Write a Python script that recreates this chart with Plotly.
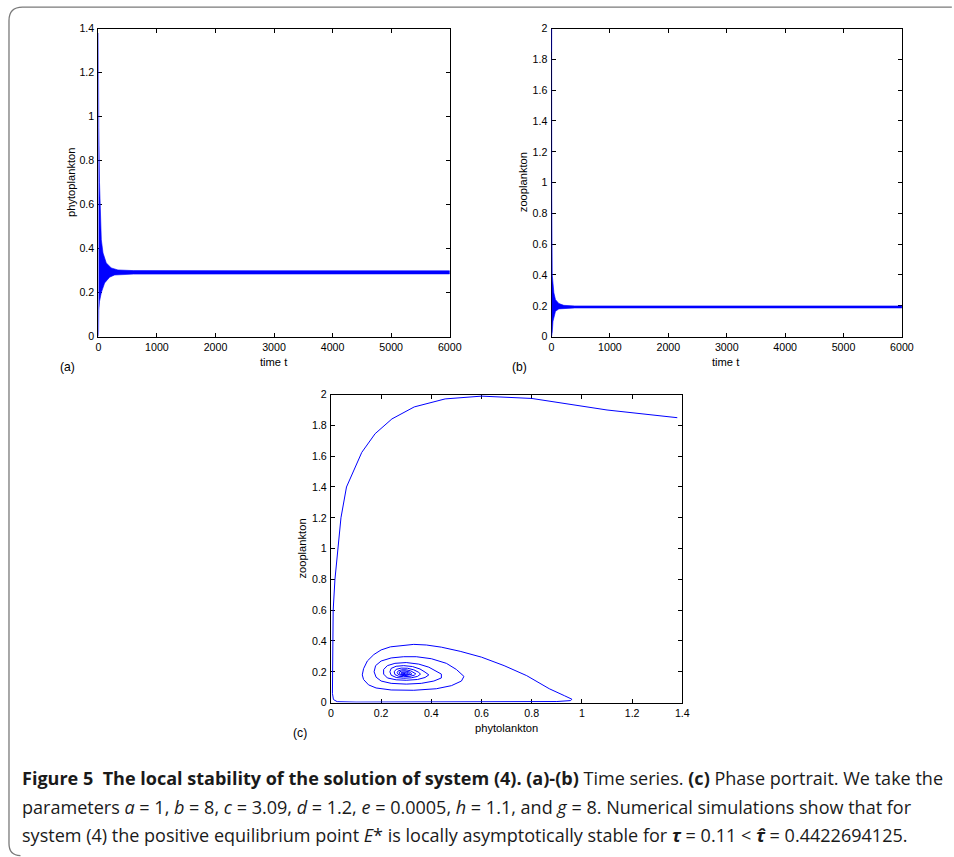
import plotly.graph_objects as go

BLUE = "#0000FF"
W, H = 954, 857

# ---------------- data ----------------
time_ticks = [0, 1000, 2000, 3000, 4000, 5000, 6000]
time_tick_text = ["0", "1000", "2000", "3000", "4000", "5000", "6000"]
phyto_ticks = [0, 0.2, 0.4, 0.6, 0.8, 1.0, 1.2, 1.4]
phyto_tick_text = ["0", "0.2", "0.4", "0.6", "0.8", "1", "1.2", "1.4"]
zoo_ticks = [0, 0.2, 0.4, 0.6, 0.8, 1.0, 1.2, 1.4, 1.6, 1.8, 2.0]
zoo_tick_text = ["0", "0.2", "0.4", "0.6", "0.8", "1", "1.2", "1.4", "1.6", "1.8", "2"]

# (a) phytoplankton time series: envelope of the dense oscillation band
a_upper_t = [0, 3, 8, 20, 34, 51, 80, 136, 221, 335, 600, 6000]
a_upper_p = [1.38, 0.97, 0.95, 0.70, 0.53, 0.44, 0.38, 0.335, 0.312, 0.303, 0.300, 0.299]
a_lower_t = [0, 4, 8, 20, 51, 108, 193, 278, 600, 6000]
a_lower_p = [0.0, 0.02, 0.12, 0.16, 0.20, 0.244, 0.27, 0.28, 0.284, 0.285]

# (b) zooplankton time series: envelope of the dense oscillation band
b_upper_t = [0, 1, 4, 12, 40, 68, 125, 210, 400, 6000]
b_upper_z = [1.85, 2.0, 0.9, 0.40, 0.284, 0.24, 0.215, 0.203, 0.199, 0.199]
b_lower_t = [0, 6, 12, 25, 40, 68, 125, 210, 400, 6000]
b_lower_z = [0.0, 0.0, 0.03, 0.10, 0.132, 0.164, 0.18, 0.184, 0.186, 0.186]

# (c) phase portrait trajectory (phytoplankton, zooplankton)
phase_p = [
    1.38, 1.10, 0.80, 0.60, 0.455, 0.332, 0.243, 0.176, 0.123, 0.084, 0.062, 0.040,
    0.027, 0.016, 0.009, 0.007, 0.005, 0.006, 0.010, 0.025, 0.10, 0.40, 0.70, 0.90,
    0.955, 0.96,
    0.93, 0.87, 0.78, 0.69, 0.60, 0.515, 0.44, 0.38, 0.33, 0.28, 0.237, 0.20, 0.171,
    0.145, 0.13, 0.125, 0.13, 0.15, 0.18, 0.24, 0.33, 0.42, 0.48, 0.52, 0.53,
    0.50, 0.46, 0.40, 0.34, 0.29, 0.24, 0.20, 0.178, 0.172, 0.18, 0.20, 0.24, 0.30,
    0.36, 0.41, 0.44, 0.44,
    0.42, 0.39, 0.35, 0.30, 0.255, 0.225, 0.21, 0.21, 0.225, 0.26, 0.30, 0.345, 0.375, 0.39,
    0.375, 0.355, 0.325, 0.29, 0.26, 0.24, 0.235, 0.24, 0.26, 0.29, 0.32, 0.345, 0.357,
    0.348, 0.33, 0.305, 0.28, 0.26, 0.252, 0.255, 0.27, 0.29, 0.315, 0.332, 0.338,
    0.33, 0.318, 0.30, 0.282, 0.268, 0.264, 0.268, 0.28, 0.295, 0.312, 0.322,
    0.318, 0.31, 0.296, 0.282, 0.273, 0.272, 0.278, 0.29, 0.303, 0.313,
    0.31, 0.302, 0.29, 0.28, 0.279, 0.286, 0.297, 0.306,
    0.30, 0.29, 0.285, 0.29, 0.296, 0.292,
]
phase_z = [
    1.85, 1.90, 1.975, 1.99, 1.972, 1.92, 1.842, 1.746, 1.625, 1.48, 1.40, 1.20,
    1.00, 0.80, 0.60, 0.40, 0.19, 0.06, 0.02, 0.006, 0.003, 0.003, 0.004, 0.007,
    0.013, 0.022,
    0.045, 0.09, 0.175, 0.24, 0.295, 0.333, 0.36, 0.374, 0.378, 0.372, 0.362, 0.342, 0.312,
    0.27, 0.22, 0.18, 0.15, 0.115, 0.095, 0.082, 0.08, 0.09, 0.11, 0.14, 0.17,
    0.215, 0.255, 0.285, 0.298, 0.298, 0.29, 0.27, 0.24, 0.20, 0.165, 0.14, 0.125, 0.12,
    0.125, 0.14, 0.16, 0.185,
    0.205, 0.23, 0.25, 0.26, 0.255, 0.24, 0.215, 0.185, 0.16, 0.148, 0.145, 0.15, 0.163, 0.18,
    0.198, 0.218, 0.234, 0.24, 0.236, 0.222, 0.20, 0.178, 0.163, 0.158, 0.161, 0.17, 0.185,
    0.198, 0.213, 0.223, 0.224, 0.216, 0.20, 0.182, 0.171, 0.168, 0.171, 0.178, 0.187,
    0.196, 0.206, 0.213, 0.213, 0.206, 0.195, 0.183, 0.177, 0.175, 0.178, 0.184,
    0.194, 0.201, 0.206, 0.205, 0.199, 0.19, 0.182, 0.179, 0.18, 0.185,
    0.193, 0.199, 0.20, 0.196, 0.189, 0.184, 0.183, 0.187,
    0.193, 0.194, 0.19, 0.187, 0.19, 0.19,
]

caption_lines = [
    "<b>Figure 5\u00a0 The local stability of the solution of system (4). (a)-(b)</b> Time series. "
    "<b>(c)</b> Phase portrait. We take the",
    "parameters <i>a</i> = 1, <i>b</i> = 8, <i>c</i> = 3.09, <i>d</i> = 1.2, <i>e</i> = 0.0005, "
    "<i>h</i> = 1.1, and <i>g</i> = 8. Numerical simulations show that for",
    "system (4) the positive equilibrium point <i>E</i>* is locally asymptotically stable for "
    "<b><i>\u03c4</i></b> = 0.11 &lt; <b><i>\u03c4\u0302</i></b> = 0.4422694125.",
]

# ---------------- placement helpers ----------------
# the photographed page comes out slightly scaled/shifted; compensate so that
# features land on the reference pixel positions
S, OX, OY = 0.986, 1.5, 6.4


def px_x(x):
    return ((x - OX) / S) / W


def px_y(y):
    return 1 - ((y - OY) / S) / H


def fs(size):
    return round(size / S, 2)


# ---------------- figure ----------------
fig = go.Figure()

fig.add_trace(go.Scatter(
    x=a_upper_t + a_lower_t[::-1], y=a_upper_p + a_lower_p[::-1],
    mode="lines", fill="toself", fillcolor=BLUE, line=dict(color=BLUE, width=0.6),
    xaxis="x", yaxis="y", hoverinfo="skip", showlegend=False))
fig.add_trace(go.Scatter(
    x=b_upper_t + b_lower_t[::-1], y=b_upper_z + b_lower_z[::-1],
    mode="lines", fill="toself", fillcolor=BLUE, line=dict(color=BLUE, width=0.6),
    xaxis="x2", yaxis="y2", hoverinfo="skip", showlegend=False))
fig.add_trace(go.Scatter(
    x=phase_p, y=phase_z, mode="lines", line=dict(color=BLUE, width=1),
    xaxis="x3", yaxis="y3", hoverinfo="skip", showlegend=False))

TICKFONT = dict(family="Liberation Sans, Arial, sans-serif", size=fs(10.5), color="black")
LABELFONT = dict(family="Liberation Sans, Arial, sans-serif", size=fs(11), color="black")


def axis(domain, rng, vals, text, anchor, standoff):
    return dict(domain=domain, range=rng, tickvals=vals, ticktext=text, anchor=anchor,
                ticks="inside", ticklen=4, tickwidth=1, tickcolor="black",
                showline=True, linecolor="black", linewidth=1, mirror="ticks",
                showgrid=False, zeroline=False, tickfont=TICKFONT,
                ticklabelstandoff=standoff,
                layer="below traces", fixedrange=True)


layout_axes = dict(
    xaxis=axis([px_x(97), px_x(449)], [0, 6000], time_ticks, time_tick_text, "y", 1),
    yaxis=axis([px_y(337), px_y(29)], [0, 1.4], phyto_ticks, phyto_tick_text, "x", 1),
    xaxis2=axis([px_x(551), px_x(902)], [0, 6000], time_ticks, time_tick_text, "y2", 1),
    yaxis2=axis([px_y(337), px_y(29)], [0, 2], zoo_ticks, zoo_tick_text, "x2", 1),
    xaxis3=axis([px_x(330), px_x(682)], [0, 1.4], phyto_ticks, phyto_tick_text, "y3", 1),
    yaxis3=axis([px_y(703), px_y(395)], [0, 2], zoo_ticks, zoo_tick_text, "x3", 1),
)

annotations = []


def label(text, x, y, angle=0, font=LABELFONT):
    annotations.append(dict(text=text, x=px_x(x), y=px_y(y), xref="paper", yref="paper",
                            showarrow=False, textangle=angle, font=font,
                            xanchor="center", yanchor="middle"))


PANELFONT = dict(family="Liberation Sans, Arial", size=fs(12), color="black")
label("phytoplankton", 69, 183, -90)
label("time t", 273, 362)
label("(a)", 66, 367, font=PANELFONT)
label("zooplankton", 522, 183, -90)
label("time t", 726, 362)
label("(b)", 519, 367, font=PANELFONT)
label("zooplankton", 301, 549, -90)
label("phytolankton", 506, 728)
label("(c)", 299, 733, font=PANELFONT)

CAPFONT = dict(family="Open Sans, Noto Sans, sans-serif", size=fs(17.8), color="#1a1a1a")
for text, y in zip(caption_lines, [778, 807, 835]):
    annotations.append(dict(text=text, x=px_x(19), y=px_y(y), xref="paper", yref="paper",
                            showarrow=False, font=CAPFONT, xanchor="left", yanchor="middle",
                            align="left"))

frame_path = (f"M {px_x(952)} {px_y(7.5)} L {px_x(21)} {px_y(7.5)} "
              f"Q {px_x(7.5)} {px_y(7.5)} {px_x(7.5)} {px_y(21)} "
              f"L {px_x(7.5)} {px_y(844)} Q {px_x(7.5)} {px_y(856)} {px_x(19)} {px_y(856)}")

fig.update_layout(
    width=W, height=H, margin=dict(l=0, r=0, t=0, b=0),
    paper_bgcolor="white", plot_bgcolor="white", showlegend=False,
    annotations=annotations,
    shapes=[dict(type="path", path=frame_path, xref="paper", yref="paper",
                 line=dict(color="#7a7a7a", width=1.3), layer="below")],
    **layout_axes,
)

POST = (
    "document.documentElement.style.margin='0';"
    "document.documentElement.style.padding='0';"
    "document.documentElement.style.overflow='hidden';"
    "document.body.style.margin='0';"
    "document.body.style.padding='0';"
    "document.body.style.overflow='hidden';"
    "var g=document.getElementById('{plot_id}');"
    "g.style.position='fixed';g.style.left='0px';g.style.top='0px';"
)

fig.write_html("out.html", config={"displayModeBar": False}, post_script=POST)
